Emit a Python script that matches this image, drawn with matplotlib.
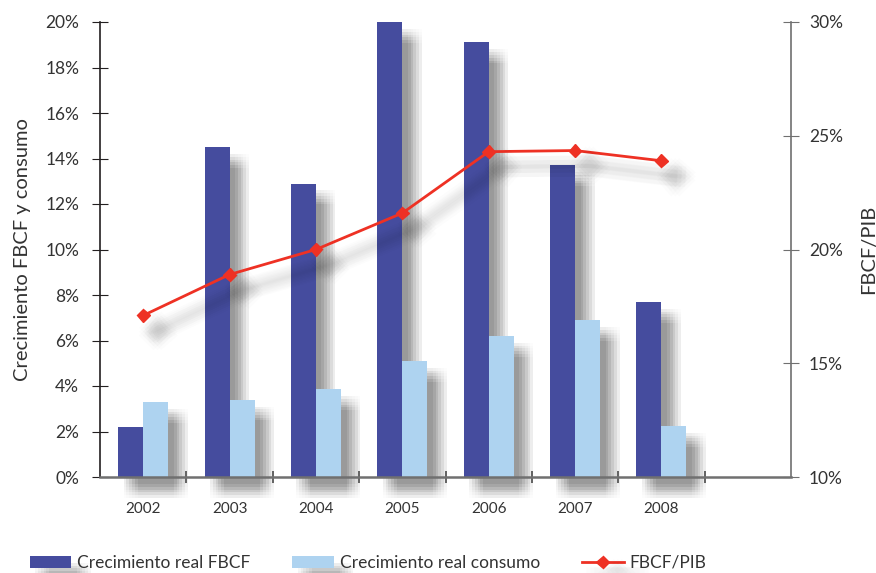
import numpy as np
import matplotlib.pyplot as plt
from matplotlib import patheffects as pe

years = ['2002', '2003', '2004', '2005', '2006', '2007', '2008']
fbcf = [2.2, 14.5, 12.9, 20.0, 19.1, 13.7, 7.7]
consumo = [3.3, 3.4, 3.85, 5.1, 6.2, 6.9, 2.25]
fbcf_pib = [17.1, 18.9, 20.0, 21.6, 24.3, 24.35, 23.9]

plt.rcParams['font.family'] = ['Lato', 'DejaVu Sans']

azul = '#454C9E'
celeste = '#AED3F0'
rojo = '#EE3124'
texto = '#333333'


def sombra_barra():
    efectos = []
    for dx in (4, 6, 8, 10, 12, 14):
        for dy in (-5, -7, -9, -11, -13, -15):
            efectos.append(pe.SimplePatchShadow(offset=(dx, dy), shadow_rgbFace='black', alpha=0.012))
    efectos.append(pe.Normal())
    return efectos


def sombra_linea():
    efectos = []
    for dx in (7, 10, 13):
        for dy in (-8, -11, -14):
            efectos.append(pe.SimpleLineShadow(offset=(dx, dy), shadow_color='black', alpha=0.012, linewidth=9))
    efectos.append(pe.Normal())
    return efectos


fig = plt.figure(figsize=(8.76, 5.73), dpi=100)
ax = fig.add_axes([100/876, 96/573, 691/876, 455/573])

x = np.arange(len(years))
w = 0.29
b1 = ax.bar(x - w/2, fbcf, w, color=azul, zorder=2, label='Crecimiento real FBCF')
b2 = ax.bar(x + w/2, consumo, w, color=celeste, zorder=2, label='Crecimiento real consumo')
for r in list(b1) + list(b2):
    r.set_path_effects(sombra_barra())
    r.set_clip_on(False)

ax.set_xlim(-0.5, 7.5)
ax.set_ylim(0, 20)
ax.set_xticks(x)
ax.set_xticklabels(years)
ax.set_xticks(x + 0.5, minor=True)
ax.tick_params(axis='x', which='major', length=0, pad=18, labelsize=11, labelcolor=texto)
ax.tick_params(axis='x', which='minor', length=8, direction='inout', color='#555555', width=1.2)
ax.set_yticks(np.arange(0, 21, 2))
ax.set_yticklabels([f'{v}%' for v in range(0, 21, 2)])
ax.tick_params(axis='y', length=12, direction='inout', color='#231f20', labelsize=12.5, labelcolor=texto, pad=9)
ax.set_ylabel('Crecimiento FBCF y consumo', fontsize=14.5, color=texto, labelpad=10)

ax.spines['top'].set_visible(False)
ax.spines['right'].set_visible(False)
ax.spines['left'].set_color('#231f20')
ax.spines['left'].set_linewidth(1.2)
ax.spines['bottom'].set_color('#707070')
ax.spines['bottom'].set_linewidth(1.8)
ax.spines['bottom'].set_zorder(3)

ax2 = ax.twinx()
ln, = ax2.plot(x, fbcf_pib, color=rojo, lw=2, marker='D', markersize=6.5, label='FBCF/PIB', zorder=4)
ln.set_path_effects(sombra_linea())
ax2.set_ylim(10, 30)
ax2.set_yticks(np.arange(10, 31, 5))
ax2.set_yticklabels([f'{v}%' for v in range(10, 31, 5)])
ax2.tick_params(axis='y', length=12, direction='inout', color='#707070', labelsize=12.5, labelcolor=texto, pad=7)
ax2.set_ylabel('FBCF/PIB', fontsize=14.5, color=texto, labelpad=12)
for s in ('top', 'left', 'bottom'):
    ax2.spines[s].set_visible(False)
ax2.spines['right'].set_color('#707070')
ax2.spines['right'].set_linewidth(1.2)

leg = fig.legend([b1, b2, ln], ['Crecimiento real FBCF', 'Crecimiento real consumo', 'FBCF/PIB'],
                 loc='center left', bbox_to_anchor=(14/876, 10/573), ncol=3, frameon=False,
                 fontsize=12.5, handlelength=2.4, handletextpad=0.35, columnspacing=2.4, labelcolor=texto)

fig.savefig('out.png', dpi=100)
